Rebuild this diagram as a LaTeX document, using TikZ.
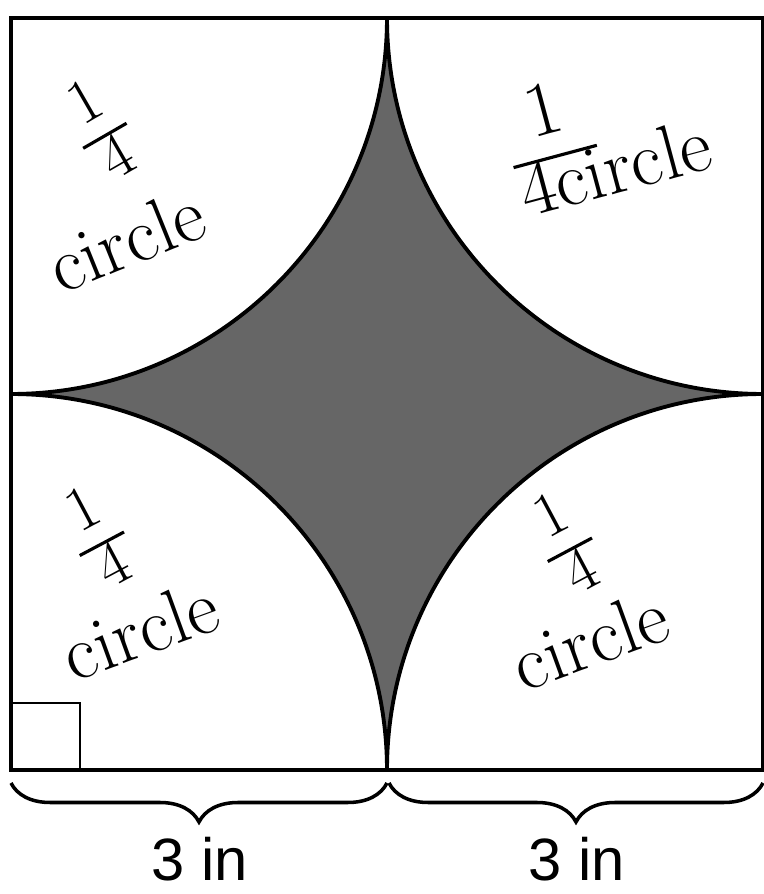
\documentclass[tikz,border=0pt]{standalone}
\usepackage{amsmath}
\usepackage{fontspec}
\usepackage{tikz}
\usetikzlibrary{decorations.pathreplacing}
\newfontfamily\dimfont{Liberation Sans}
\definecolor{StarShade}{gray}{0.40}
\definecolor{FigureInk}{gray}{0.0}
\setlength{\arrayrulewidth}{1.8pt}
\renewcommand{\arraystretch}{0.85}

\begin{document}
\begin{tikzpicture}[
  x=0.02cm,y=0.02cm,
  edge/.style={draw=FigureInk,line width=2.7pt},
  arcline/.style={draw=FigureInk,line width=2.2pt},
  cornermark/.style={draw=FigureInk,line width=1.7pt},
  handword/.style={text=FigureInk,font=\fontsize{44}{48}\selectfont},
  handfrac/.style={text=FigureInk,font=\fontsize{36}{40}\selectfont},
  dimbrace/.style={draw=FigureInk,line width=2pt,decorate,
                   decoration={brace,mirror,amplitude=0.78cm}},
  dimlabel/.style={text=FigureInk,font=\dimfont\fontsize{34}{40}\selectfont},
]
  \useasboundingbox (0,0) rectangle (764,894);

  \coordinate (sw) at (11,124);
  \coordinate (se) at (763,124);
  \coordinate (ne) at (763,876);
  \coordinate (nw) at (11,876);
  \coordinate (topmid) at (387,876);
  \coordinate (botmid) at (387,124);

  % region left over between the four quarter circles
  \path[fill=StarShade] (topmid)
    arc[start angle=0,end angle=-90,radius=376]
    arc[start angle=90,end angle=0,radius=376]
    arc[start angle=180,end angle=90,radius=376]
    arc[start angle=270,end angle=180,radius=376] -- cycle;
  \draw[arcline] (topmid)
    arc[start angle=0,end angle=-90,radius=376]
    arc[start angle=90,end angle=0,radius=376]
    arc[start angle=180,end angle=90,radius=376]
    arc[start angle=270,end angle=180,radius=376];

  \draw[edge] (sw) rectangle (ne);
  \draw[cornermark] (sw) rectangle ++(69,67);

  % handwritten labels
  \node[handfrac,rotate=30] (tlfrac) at (105,758)
    {\begin{tabular}{@{\,}c@{\,}}1\\\hline 4\end{tabular}};
  \node[handword,rotate=22] (tlword) at (126,654) {circle};
  \node[handword,rotate=15] (trword) at (608,752)
    {\begin{tabular}{@{}c@{}l@{}}1&\\\cline{1-1} 4ci&rcle\end{tabular}};
  \node[handfrac,rotate=28] (blfrac) at (102,350)
    {\begin{tabular}{@{\,}c@{\,}}1\\\hline 4\end{tabular}};
  \node[handword,rotate=20] (blword) at (140,264) {circle};
  \node[handfrac,rotate=28] (brfrac) at (570,344)
    {\begin{tabular}{@{\,}c@{\,}}1\\\hline 4\end{tabular}};
  \node[handword,rotate=20] (brword) at (590,254) {circle};

  % dimensions
  \draw[dimbrace] (11,111) -- (387,111);
  \draw[dimbrace] (389,111) -- (763,111);
  \node[dimlabel] (leftlen) at (200,35) {3 in};
  \node[dimlabel] (rightlen) at (577,35) {3 in};
\end{tikzpicture}
\end{document}
